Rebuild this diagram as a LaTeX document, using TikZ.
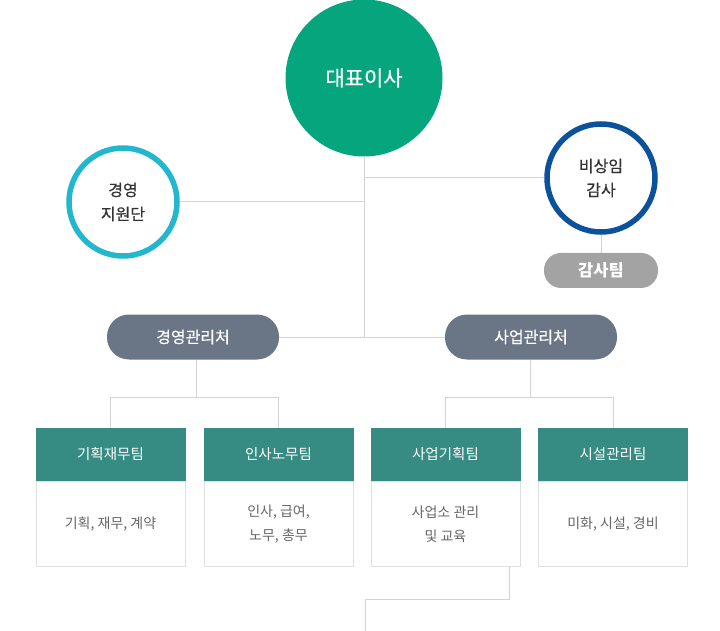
\documentclass[tikz,border=0pt]{standalone}
\usepackage{fontspec}
\setmainfont{Noto Sans CJK KR}
\newfontfamily\medfont{Noto Sans CJK KR}[FakeBold=0.6]
\usepackage{xcolor}
\usetikzlibrary{positioning,calc,backgrounds}
\definecolor{ceogreen}{HTML}{05A57E}
\definecolor{supcyan}{HTML}{22B7CF}
\definecolor{audblue}{HTML}{0B519B}
\definecolor{audgray}{HTML}{A3A3A3}
\definecolor{deptgray}{HTML}{6A7586}
\definecolor{teamteal}{HTML}{368B83}
\definecolor{linegray}{HTML}{D3D3D3}
\definecolor{boxgray}{HTML}{DFDFDF}
\definecolor{textgray}{HTML}{666666}
\definecolor{darktext}{HTML}{333333}

\begin{document}
\begin{tikzpicture}[x=1pt, y=-1pt,
    line/.style={draw=linegray, line width=1pt},
    ring/.style={circle, draw, line width=5.5pt, fill=white, minimum size=108pt, inner sep=0pt,
        align=center, text=darktext, font=\fontsize{16}{24}\selectfont\medfont},
    pill/.style={rounded corners=17pt, minimum height=35pt, text=white},
    dept/.style={pill, fill=deptgray, minimum width=172pt, minimum height=45pt, rounded corners=22pt,
        font=\fontsize{16}{20}\selectfont\medfont},
    teamhead/.style={fill=teamteal, minimum width=150pt, minimum height=53pt, inner sep=0pt,
        text=white, font=\fontsize{14.5}{18}\selectfont},
    teambody/.style={draw=boxgray, line width=1pt, fill=white, minimum width=149pt, minimum height=85pt,
        inner sep=0pt, align=center, text=textgray, font=\fontsize{14}{24}\selectfont}
]
    \useasboundingbox (0,0) rectangle (720,631);

    % Top
    \node[circle, fill=ceogreen, minimum size=157pt, inner sep=0pt, text=white,
        font=\fontsize{21}{24}\selectfont\medfont] (ceo) at (364,78) {대표이사};
    \node[ring, draw=supcyan] (support) at (123,202) {경영\\지원단};
    \node[ring, draw=audblue] (audit) at (601,178) {비상임\\감사};
    \node[pill, fill=audgray, minimum width=114pt, font=\fontsize{16.5}{20}\selectfont\bfseries,
        below=18pt of audit] (auditteam) {감사팀};

    % Departments
    \node[dept] (mgmt) at (193,337) {경영관리처};
    \node[dept] (biz) at (531,337) {사업관리처};

    % Teams
    \node[teamhead] (plan) at (110.5,454.5) {기획재무팀};
    \node[teambody, below=0pt of plan] (planbody) {기획, 재무, 계약};
    \node[teamhead] (hr) at (278.5,454.5) {인사노무팀};
    \node[teambody, below=0pt of hr] (hrbody) {인사, 급여,\\노무, 총무};
    \node[teamhead] (bizplan) at (445.5,454.5) {사업기획팀};
    \node[teambody, below=0pt of bizplan] (bizplanbody) {사업소 관리\\및 교육};
    \node[teamhead] (facility) at (613,454.5) {시설관리팀};
    \node[teambody, below=0pt of facility] (facilitybody) {미화, 시설, 경비};

    % Connectors
    \coordinate (mgmtsplit) at ($(mgmt.south)+(3,38)$);
    \coordinate (bizsplit) at ($(biz.south)+(-1,38)$);
    \coordinate (tail) at (365,631);
    \begin{scope}[on background layer]
        \draw[line] (ceo.south) -- (ceo.south |- mgmt.east);
        \draw[line] (support.east) -- (ceo.south |- support.east);
        \draw[line] (audit.west) -- (ceo.south |- audit.west);
        \draw[line] (audit.south) -- (auditteam.north);
        \draw[line] (mgmt.east) -- (biz.west);
        \draw[line] (mgmt.south -| mgmtsplit) -- (mgmtsplit);
        \draw[line] (plan.north) |- (mgmtsplit) -| (hr.north);
        \draw[line] (biz.south -| bizsplit) -- (bizsplit);
        \draw[line] (bizplan.north) |- (bizsplit) -| (facility.north);
        \draw[line] ([xshift=-11pt]bizplanbody.south east) -- ++(0,32) -| (tail);
    \end{scope}
\end{tikzpicture}
\end{document}
